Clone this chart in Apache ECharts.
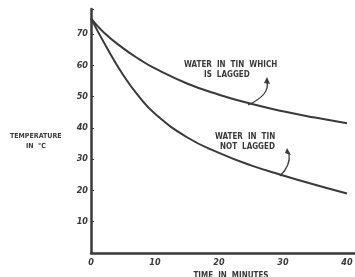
<!DOCTYPE html>
<html>
<head>
<meta charset="utf-8">
<script src="https://cdn.jsdelivr.net/npm/echarts@6/dist/echarts.min.js"></script>
<style>
html, body { margin: 0; padding: 0; background: #fff; }
#chart { width: 355px; height: 277px; }
</style>
</head>
<body>
<div id="chart"></div>
<script>
// minutes / temperature
var lagTime = [0, 2, 5, 7.5, 10, 15, 20, 25, 30, 35, 40];
var lagTemp = [75, 70.5, 65.5, 62, 59, 54.2, 50.6, 47.7, 45.3, 43.3, 41.5];
var bareTime = [0, 2.5, 5, 7.5, 10, 15, 20, 25, 30, 35, 40];
var bareTemp = [75, 65.5, 57, 50, 44.5, 37, 32, 28, 24.8, 21.8, 19];
var xTicks = [0, 10, 20, 30, 40];
var yTicks = [10, 20, 30, 40, 50, 60, 70];

var ink = '#3a3a3a';
var hand = '"DejaVu Sans Condensed", "Liberation Sans Narrow", sans-serif';

function pairs(xs, ys) {
	return xs.map(function(x, i) { return [x, ys[i]]; });
}

var myChart = echarts.init(document.getElementById('chart'));

var option = {
	animation: false,
	grid: { left: 91, right: 0, top: 9, bottom: 24, outerBoundsMode: 'none' },
	xAxis: {
		type: 'value',
		min: 0,
		max: 41.25,
		interval: 10,
		name: 'TIME  IN  MINUTES',
		nameLocation: 'middle',
		nameGap: 19,
		nameTextStyle: { color: ink, fontFamily: hand, fontWeight: 'bold', fontSize: 8, padding: [0, 0, 0, 16] },
		axisLine: { lineStyle: { color: ink, width: 2.5 } },
		axisTick: { show: false },
		splitLine: { show: false },
		axisLabel: {
			color: ink, fontFamily: hand, fontStyle: 'italic', fontWeight: 'bold', fontSize: 9, margin: 5,
			formatter: function(v) { return xTicks.indexOf(v) >= 0 ? String(v) : ''; }
		}
	},
	yAxis: {
		type: 'value',
		min: 0,
		max: 78,
		interval: 10,
		axisLine: { lineStyle: { color: ink, width: 2.5 } },
		axisTick: { show: true, inside: true, length: 3, lineStyle: { color: ink, width: 1 } },
		splitLine: { show: false },
		axisLabel: {
			color: ink, fontFamily: hand, fontStyle: 'italic', fontWeight: 'bold', fontSize: 9, margin: 3,
			formatter: function(v) { return yTicks.indexOf(v) >= 0 ? String(v) : ''; }
		}
	},
	series: [{
		name: 'lagged',
		type: 'line',
		smooth: 0.5,
		symbol: 'none',
		data: pairs(lagTime, lagTemp),
		lineStyle: { color: ink, width: 2 }
	}, {
		name: 'not lagged',
		type: 'line',
		smooth: 0.5,
		symbol: 'none',
		data: pairs(bareTime, bareTemp),
		lineStyle: { color: ink, width: 2 }
	}],
	graphic: [
		{ type: 'text', left: 10, top: 133, style: { text: 'TEMPERATURE', fill: ink, font: 'bold 7px ' + hand } },
		{ type: 'text', left: 26, top: 143, style: { text: 'IN  °C', fill: ink, font: 'bold 7px ' + hand } },
		{ type: 'text', left: 184, top: 61, style: { text: 'WATER  IN  TIN  WHICH', fill: ink, font: 'bold 8px ' + hand } },
		{ type: 'text', left: 204, top: 71, style: { text: 'IS  LAGGED', fill: ink, font: 'bold 8px ' + hand } },
		{ type: 'text', left: 215, top: 133, style: { text: 'WATER  IN  TIN', fill: ink, font: 'bold 8px ' + hand } },
		{ type: 'text', left: 220, top: 143, style: { text: 'NOT  LAGGED', fill: ink, font: 'bold 8px ' + hand } },
		{ type: 'bezierCurve', shape: { x1: 267, y1: 82, x2: 248, y2: 105, cpx1: 270, cpy1: 95 }, style: { stroke: ink, lineWidth: 1.3, fill: null } },
		{ type: 'polygon', shape: { points: [[264, 83], [267, 77], [270, 84]] }, style: { fill: ink } },
		{ type: 'bezierCurve', shape: { x1: 289, y1: 154, x2: 280, y2: 176, cpx1: 291, cpy1: 165 }, style: { stroke: ink, lineWidth: 1.3, fill: null } },
		{ type: 'polygon', shape: { points: [[285, 153], [287, 148], [291, 155]] }, style: { fill: ink } }
	]
};

myChart.setOption(option);
</script>
</body>
</html>
